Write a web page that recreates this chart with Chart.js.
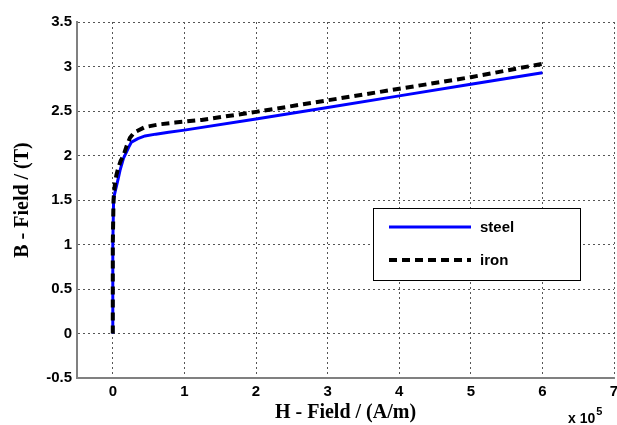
<!DOCTYPE html>
<html>
<head>
<meta charset="utf-8">
<script src="https://cdn.jsdelivr.net/npm/chart.js@4.4.0/dist/chart.umd.min.js"></script>
<style>
  html, body { margin: 0; padding: 0; background: #fff; }
  #wrap { width: 617px; height: 425px; }
</style>
</head>
<body>
<div id="wrap"><canvas id="c" width="617" height="425"></canvas></div>
<script>
// H in A/m, B in T
var steelH = [0, 0, 1000, 2000, 4000, 7000, 10000, 15000, 22000, 26000, 35000, 45000, 60000, 78000, 100000, 200000, 300000, 400000, 500000, 600000];
var steelB = [0, 1.0, 1.45, 1.55, 1.62, 1.72, 1.83, 1.97, 2.09, 2.15, 2.19, 2.22, 2.24, 2.26, 2.285, 2.41, 2.54, 2.67, 2.80, 2.93];

var ironH = [0, 0, 1000, 2000, 3000, 5000, 8000, 11000, 15000, 19000, 24000, 30000, 45000, 65000, 87000, 124000, 200000, 300000, 400000, 500000, 600000];
var ironB = [0, 1.0, 1.5, 1.6, 1.68, 1.78, 1.87, 1.94, 2.0, 2.1, 2.2, 2.26, 2.32, 2.35, 2.37, 2.4, 2.49, 2.62, 2.75, 2.88, 3.03];

var xTicks = [0, 100000, 200000, 300000, 400000, 500000, 600000, 700000];
var yTicks = [-0.5, 0, 0.5, 1, 1.5, 2, 2.5, 3, 3.5];
var seriesNames = ["steel", "iron"];
var xMultiplier = "x 10";
var xExponent = "5";

function pts(h, b) {
    return h.map(function (v, i) { return { x: v, y: b[i] } })
}

// legend box inside the plot + the "x 10^5" label
const extras = {
    id: 'extras',
    afterDraw(chart) {
        const ctx = chart.ctx
        const ds = chart.data.datasets
        ctx.save()
        // legend
        const bx = 373, by = 208, bw = 207, bh = 72
        ctx.fillStyle = '#fff'
        ctx.fillRect(bx, by, bw, bh)
        ctx.strokeStyle = '#000'
        ctx.lineWidth = 1
        ctx.setLineDash([])
        ctx.strokeRect(bx + 0.5, by + 0.5, bw, bh)
        ds.forEach(function (d, i) {
            const y = by + 19 + i * 33
            ctx.strokeStyle = d.borderColor
            ctx.lineWidth = d.borderWidth
            ctx.setLineDash(d.borderDash || [])
            ctx.beginPath()
            ctx.moveTo(389, y)
            ctx.lineTo(471, y)
            ctx.stroke()
            ctx.setLineDash([])
            ctx.fillStyle = '#000'
            ctx.font = 'bold 15px "Liberation Sans", Arial, sans-serif'
            ctx.textBaseline = 'middle'
            ctx.textAlign = 'left'
            ctx.fillText(d.label, 480, y + 1)
        })
        // multiplier
        ctx.fillStyle = '#000'
        ctx.font = 'bold 14px "Liberation Sans", Arial, sans-serif'
        ctx.textBaseline = 'alphabetic'
        ctx.textAlign = 'left'
        ctx.fillText(xMultiplier, 568, 423)
        const w = ctx.measureText(xMultiplier).width
        ctx.font = 'bold 11px "Liberation Sans", Arial, sans-serif'
        ctx.fillText(xExponent, 568 + w + 1, 415)
        ctx.restore()
    }
}

const gridStyle = {
    color: '#555',
    lineWidth: 1,
    tickLength: 0,
    drawTicks: false
}

new Chart(document.getElementById('c'), {
    type: 'line',
    data: {
        datasets: [{
            label: seriesNames[0],
            data: pts(steelH, steelB),
            borderColor: '#0000ff',
            borderWidth: 3,
            pointRadius: 0,
            tension: 0,
            order: 1
        }, {
            label: seriesNames[1],
            data: pts(ironH, ironB),
            borderColor: '#000000',
            borderWidth: 4,
            borderDash: [8, 5],
            pointRadius: 0,
            tension: 0,
            order: 0
        }]
    },
    options: {
        responsive: false,
        animation: false,
        devicePixelRatio: 1,
        layout: { padding: { top: 22, right: 3, left: 0, bottom: 0 } },
        plugins: { legend: { display: false }, tooltip: { enabled: false } },
        scales: {
            x: {
                type: 'linear',
                min: -50000,
                max: 700000,
                afterBuildTicks(s) { s.ticks = xTicks.map(function (v) { return { value: v } }) },
                afterFit(s) { s.height = 47; s.paddingLeft = 0; s.paddingRight = 0 },
                ticks: {
                    padding: 5,
                    maxRotation: 0,
                    autoSkip: false,
                    color: '#000',
                    font: { family: '"Liberation Sans", Arial, sans-serif', size: 15, weight: 'bold' },
                    callback(v) { return String(v / 100000) }
                },
                grid: gridStyle,
                border: { display: true, color: '#808080', width: 2, dash: [2, 3] },
                title: {
                    display: true,
                    text: 'H - Field / (A/m)',
                    color: '#000',
                    padding: { top: 0, bottom: 0 },
                    font: { family: '"Liberation Serif", "Times New Roman", serif', size: 20, weight: 'bold' }
                }
            },
            y: {
                type: 'linear',
                min: -0.5,
                max: 3.5,
                afterBuildTicks(s) { s.ticks = yTicks.map(function (v) { return { value: v } }) },
                afterFit(s) { s.width = 77 },
                ticks: {
                    padding: 5,
                    autoSkip: false,
                    color: '#000',
                    font: { family: '"Liberation Sans", Arial, sans-serif', size: 15, weight: 'bold' },
                    callback(v) { return String(v) }
                },
                grid: gridStyle,
                border: { display: true, color: '#808080', width: 2, dash: [2, 3] },
                title: {
                    display: true,
                    text: 'B - Field / (T)',
                    color: '#000',
                    padding: { top: 11, bottom: 0 },
                    font: { family: '"Liberation Serif", "Times New Roman", serif', size: 20, weight: 'bold' }
                }
            }
        }
    },
    plugins: [extras]
})
</script>
</body>
</html>
